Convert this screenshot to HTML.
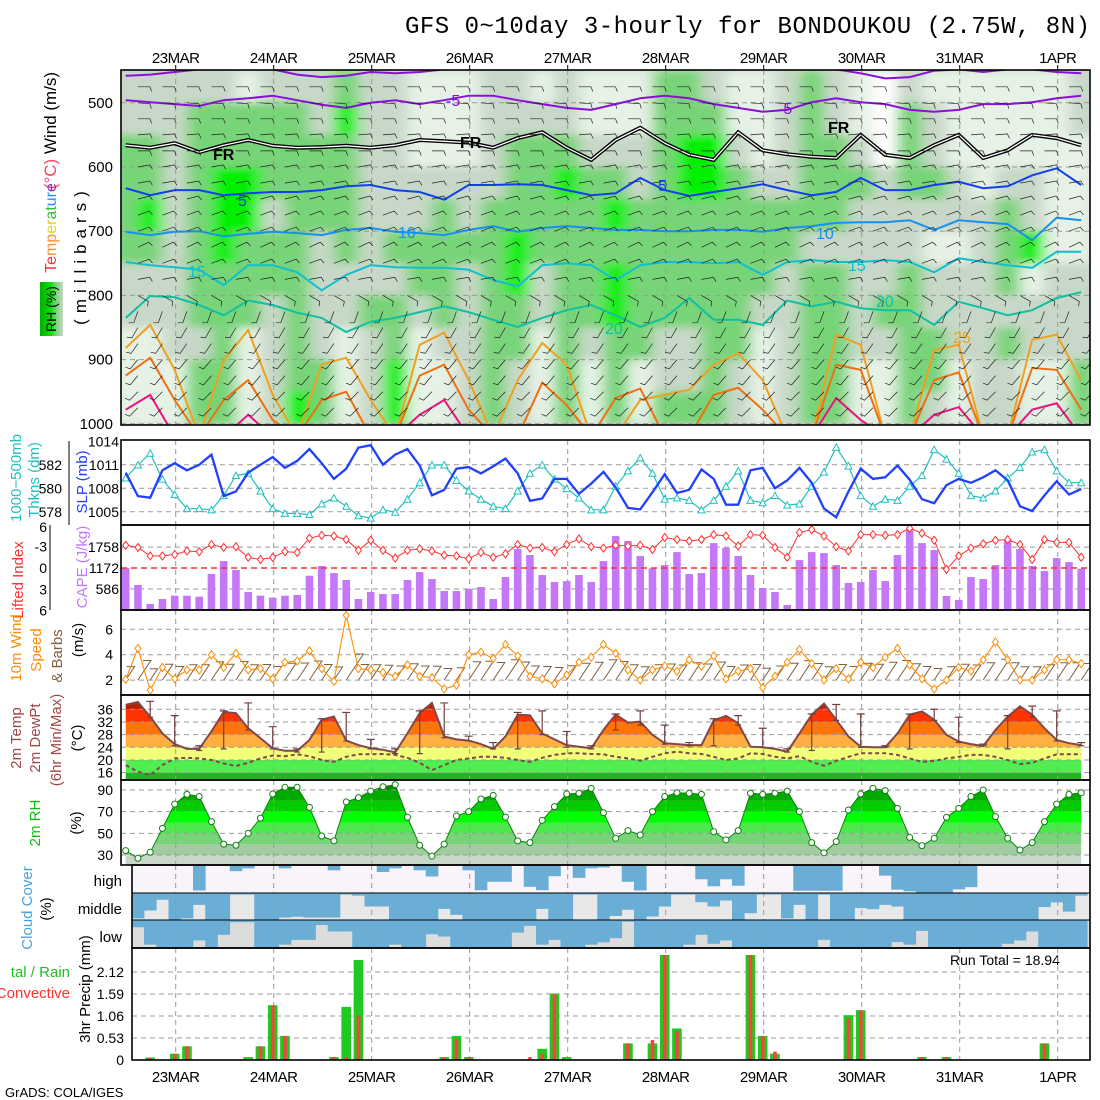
<!DOCTYPE html>
<html><head><meta charset="utf-8"><title>GFS meteogram BONDOUKOU</title>
<style>
html,body{margin:0;padding:0;background:#fff;}
svg{display:block;font-family:"Liberation Sans",sans-serif;}
.tk{font-size:14px;fill:#000;}
.dt{font-size:15px;fill:#000;letter-spacing:-0.5px;}
</style></head>
<body>
<svg id="root" width="1100" height="1100" viewBox="0 0 1100 1100" xmlns="http://www.w3.org/2000/svg">
<defs>
<clipPath id="cP1"><rect x="121" y="70" width="969" height="355"/></clipPath>
<clipPath id="cP2"><rect x="121" y="440" width="969" height="85"/></clipPath>
<clipPath id="cP3"><rect x="121" y="525" width="969" height="85"/></clipPath>
<clipPath id="cP4"><rect x="121" y="610" width="969" height="85"/></clipPath>
<clipPath id="cP5"><rect x="121" y="695" width="969" height="85"/></clipPath>
<clipPath id="cP6"><rect x="121" y="780" width="969" height="85"/></clipPath>
<clipPath id="cP7"><rect x="132" y="865" width="958" height="83"/></clipPath>
<clipPath id="cP8"><rect x="132" y="948" width="958" height="112"/></clipPath>
<filter id="blur" x="-5%" y="-5%" width="110%" height="110%"><feGaussianBlur stdDeviation="7 4"/></filter>
<linearGradient id="rhbox" x1="0" x2="1" y1="0" y2="0">
<stop offset="0" stop-color="#00b000"/><stop offset="0.45" stop-color="#00e000"/><stop offset="0.7" stop-color="#78d478"/><stop offset="1" stop-color="#c8d8c8"/></linearGradient>
</defs>
<rect x="0" y="0" width="1100" height="1100" fill="#fff"/>
<text x="405" y="33" font-family="Liberation Mono, monospace" font-size="24" textLength="685" fill="#000">GFS 0~10day 3-hourly for BONDOUKOU (2.75W, 8N)</text>

<g font-size="17">
<text transform="translate(56,113) rotate(-90)" text-anchor="middle" fill="#000">Wind (m/s)</text>
<text transform="translate(56,174) rotate(-90)" text-anchor="middle" fill="#ff4060">(°C)</text>
<text transform="translate(56,228) rotate(-90)" text-anchor="middle" font-size="16"><tspan fill="#ff3030">Te</tspan><tspan fill="#ff9030">mp</tspan><tspan fill="#e8d020">er</tspan><tspan fill="#30c030">at</tspan><tspan fill="#2090ff">ur</tspan><tspan fill="#8030d0">e</tspan></text>
<rect x="40" y="282" width="23" height="54" fill="url(#rhbox)"/>
<text transform="translate(56,309) rotate(-90)" text-anchor="middle" font-size="14" fill="#000">RH (%)</text>
<text transform="translate(86,255) rotate(-90)" text-anchor="middle" letter-spacing="6" fill="#000">(millibars)</text>
</g>
<g font-size="15">
<text transform="translate(21,478) rotate(-90)" text-anchor="middle" fill="#20c0c0">1000−500mb</text>
<text transform="translate(39,480) rotate(-90)" text-anchor="middle" fill="#20c0c0">Thkns (dm)</text>
<text transform="translate(87,482) rotate(-90)" text-anchor="middle" fill="#2040ff">SLP (mb)</text>
</g>
<g font-size="15">
<text transform="translate(23,580) rotate(-90)" text-anchor="middle" fill="#ff3030">Lifted Index</text>
<text transform="translate(87,567) rotate(-90)" text-anchor="middle" fill="#c078f8">CAPE (J/kg)</text>
</g>
<g font-size="15">
<text transform="translate(21,648) rotate(-90)" text-anchor="middle" fill="#ff8c00">10m Wind</text>
<text transform="translate(41,650) rotate(-90)" text-anchor="middle" fill="#ff8c00">Speed</text>
<text transform="translate(62,656) rotate(-90)" text-anchor="middle" fill="#806040">&amp; Barbs</text>
<text transform="translate(83,640) rotate(-90)" text-anchor="middle" fill="#000">(m/s)</text>
</g>
<g font-size="15">
<text transform="translate(21,738) rotate(-90)" text-anchor="middle" fill="#a04848">2m Temp</text>
<text transform="translate(40,738) rotate(-90)" text-anchor="middle" fill="#a04848">2m DewPt</text>
<text transform="translate(61,740) rotate(-90)" text-anchor="middle" fill="#a04848">(6hr Min/Max)</text>
<text transform="translate(82,738) rotate(-90)" text-anchor="middle" fill="#000">(°C)</text>
</g>
<g font-size="15">
<text transform="translate(40,823) rotate(-90)" text-anchor="middle" fill="#10c010">2m RH</text>
<text transform="translate(81,823) rotate(-90)" text-anchor="middle" fill="#000">(%)</text>
</g>
<g font-size="15">
<text transform="translate(32,908) rotate(-90)" text-anchor="middle" fill="#4aa0d8">Cloud Cover</text>
<text transform="translate(51,909) rotate(-90)" text-anchor="middle" fill="#000">(%)</text>
<text x="122" y="886" text-anchor="end" fill="#000">high</text>
<text x="122" y="914" text-anchor="end" fill="#000">middle</text>
<text x="122" y="942" text-anchor="end" fill="#000">low</text>
</g>
<g font-size="15">
<text x="70" y="977" text-anchor="end" fill="#20c020">tal / Rain</text>
<text x="70" y="998" text-anchor="end" fill="#ff3030">Convective</text>
<text transform="translate(90,989) rotate(-90)" text-anchor="middle" fill="#000">3hr Precip (mm)</text>
</g>
<text x="950" y="965" font-size="14" fill="#000">Run Total = 18.94</text>
<text x="5" y="1097" font-size="13" fill="#000">GrADS: COLA/IGES</text>

<g id="marks"></g>
</svg>
<script>
const dateLabels = ["23MAR","24MAR","25MAR","26MAR","27MAR","28MAR","29MAR","30MAR","31MAR","1APR"];
const pressureTicks = [500,600,700,800,900,1000];
const slpTicks = [1014,1011,1008,1005];
const thkTicks = [582,580,578];
const liTicks = [-3,0,3,6];
const capeTicks = [1758,1172,586];
const windTicks = [6,4,2];
const tempTicks = [36,32,28,24,20,16];
const rhTicks = [90,70,50,30];
const precipTicks = [2.12,1.59,1.06,0.53,0];

const slpValues = [1010,1007,1006.8,1010.3,1011.2,1010.3,1011,1012.3,1007,1007.6,1010,1011,1012,1010.6,1011.5,1013,1011.2,1009.2,1010.5,1013.2,1013.5,1011,1012.3,1013,1010.9,1007.1,1007.8,1010.5,1010.7,1009.9,1010.8,1011.8,1009.9,1006.4,1006.7,1009.2,1009.2,1007.3,1008.6,1010.1,1008.1,1005.5,1005.3,1007.5,1009.8,1007.4,1007.8,1010.4,1009.2,1005.9,1005.9,1010.3,1010.6,1008,1009,1010.6,1008.7,1005.4,1004.3,1007.6,1010.5,1009.2,1009.4,1010.9,1009.1,1006.6,1006.1,1008.4,1009.2,1008.7,1009.4,1010.3,1009,1005.7,1005.1,1007.1,1008.9,1007.2,1007.9];
const thicknessValues = [580.9,582,583,580.8,579.5,578.3,578.3,578.2,579.4,581.1,581.3,579.8,578.3,577.9,577.9,577.8,578.7,579.2,578.5,577.7,577.5,578.2,578,579.1,580.5,582,582,580.7,579.8,579.1,578.5,578.3,579.8,581.3,582,580.8,580,579.2,578.2,578.2,580.2,581.5,582.6,581.3,579.1,579.2,579,578.2,579,580.2,581.5,579,578.8,579.4,578.6,578.7,580.2,581.4,583.5,581.9,579.4,578.5,579.1,579,580.2,581.1,583.3,582.5,581.3,579.4,579.2,579.8,580.9,581.8,583.1,583.3,581.5,580.5,580.5];
const liftedIndexValues = [-3.2,-2.9,-1.7,-1.7,-1.9,-2.4,-2.3,-3.3,-2.9,-3,-1.5,-1.2,-1.5,-2.3,-2.2,-4.2,-4.6,-4.5,-4,-2.5,-3.9,-2.5,-1.4,-2.5,-2.7,-2.4,-1.8,-1.7,-1.3,-2.2,-1.5,-2,-3.3,-2.8,-2.9,-2.3,-3.3,-4.1,-3,-2.8,-3.2,-3.1,-3.2,-2.6,-4.3,-4,-3.8,-4,-4.7,-4.5,-3.1,-4.7,-4.6,-2.9,-1.5,-5,-5.4,-4.5,-3,-2.4,-4.7,-4.7,-4.6,-4.7,-5.6,-4.9,-3.9,0.2,-1.7,-2.8,-3.4,-3.9,-4,-3.3,-1.2,-4,-3.6,-3.6,-1.5];
const capeValues = [1172,698,167,307,400,400,372,1004,1367,1116,502,400,344,400,419,958,1228,1032,837,307,502,446,446,837,1060,865,530,530,586,642,307,921,1702,1535,977,781,809,977,781,1367,2065,1925,1507,1163,1256,1618,1004,1032,1869,1739,1507,977,614,502,140,1395,1618,1590,1256,753,781,1116,809,1535,2232,1869,1674,391,279,921,865,1256,1953,1702,1228,1088,1451,1339,1153];
const windSpeedValues = [2.05,4.5,1.2,3,2.1,2.8,2.8,4,3,4.1,2.8,2.9,2.1,3.4,3.5,4.3,2.9,1.9,7.1,2.9,2.8,2.6,2.3,3.2,2.3,2.2,1.3,1.6,4,4.2,3.7,4.8,3.9,2.3,2.1,1.7,2.4,3.4,3.8,4.8,4.1,2.8,2,2.8,3.1,2.7,3.6,3.1,3.9,2.1,2.7,2.9,1.4,2.3,3.4,4.4,3.3,2,2.9,2.1,3.4,3,3.8,4.5,3.2,2.1,1.3,2,3,2.7,3.6,5,3.6,2,2,2.8,3.6,3.6,3.3];
const tempValues = [37.4,38.3,33.7,28.4,25,23.5,23.5,29,35.1,34.8,30,26.9,23.7,22.9,22.9,26.3,32.7,33.7,26.1,24.7,23.7,23.2,22.4,28.4,34.8,38,27.4,26.5,26.1,25,23.5,27.4,34.3,34.1,28.4,26.5,24.7,24.2,23.7,29.5,34.3,31.8,32.1,27.9,25.3,25,24.7,24.7,32.5,33.9,31.6,24.2,24,23.5,22.6,28.4,34.3,37.8,32.7,27.4,24.2,24,24,28.4,34.3,35.3,32.7,27.9,25.8,25,24.4,29.5,33.7,36.9,34.3,30,26.3,25.3,24.7];
const dewpointValues = [18.4,16.3,15.2,18.4,20.5,20.7,20.5,20,18.9,18.1,19.1,20.5,21.4,21.2,21.8,21.2,20,19.4,21,21.8,21.8,21.9,21.6,20.7,19.1,16.8,18.4,20,20.5,21,21,20.7,20,19.4,20.7,21.6,22.1,22.1,21.9,21.8,21,20.5,19.8,21,22.1,22.6,22.1,21.9,21,20,20.5,22.1,21.9,21,20.5,21.2,19.4,18.2,19.7,21,22.1,22.1,22.1,21.6,20.5,19.4,19.7,20.5,21,21.6,21.6,21,20,18.7,19.1,20.5,21.8,21.8,21.8];
const tmax6Values = [38.5,34,24.5,35.5,38,30.5,23.5,33,35,26.5,23.5,35.5,38,27.5,25.5,35,35.5,29,24.5,34.5,35.5,31,25.5,33,34,30,23.5,34.5,37.5,34.5,24.5,34.5,36,33.5,25,34,37,35.5,25.5];
const tmin6Values = [33.5,24.5,23,23.5,29.5,23.5,22.5,22.5,26,23.5,22,22,27,26,23.5,23.5,28,24,23.5,29.5,31,25,24.5,24.5,31,24,22.5,23,32.5,24,24,23.5,32.5,25.5,24.5,23.5,33.5,26,24.5];
const rhValues = [34,27,32.5,54.6,77,86,84,60.8,40,39,50,64,86.3,92.5,92.5,74,47.5,43,79,83,89,93,95,64.8,39,29,40,66,70,81.7,85,65,43,41.4,62,74.6,86.3,87,91.5,69,45.4,52.5,48.5,70,84,87.5,87,86,51.5,44,52.5,87,86,87,89,70,41.4,32,42.3,71.5,86.3,91.5,89.4,73,46.3,38.6,45.4,64.8,73,84,90,65.4,45.4,34.6,41.4,60.8,77,86,87.5];
const cloudHigh = [0,0,0,0,0,0,91,0,0,22, 12,0,0,12,0,0,0,19,0,0, 0,25,12,0,19,41,0,0,19,90, 60,60,0,78,90,40,0,46,12,9, 0,60,91,0,0,0,4,51,76,51, 74,0,0,0,0,92,92,92,92,0, 0,0,38,88,94,100,100,100,87,79, 0,0,0,0,0,0,0,0,0];
const cloudMid = [94,94,65,25,100,94,44,100,100,6, 6,100,100,91,88,91,91,91,6,10, 50,50,100,100,100,100,59,81,100,100, 100,100,100,100,59,100,100,6,6,100, 85,62,100,87,50,6,6,34,50,28, 100,75,6,6,94,44,100,6,100,100, 56,60,44,50,100,100,100,100,100,100, 100,100,100,100,100,52,35,69,10];
const cloudLow = [26,26,88,100,100,100,73,100,53,8, 8,100,100,88,71,71,18,41,41,100, 100,100,88,100,100,51,59,100,100,100, 100,100,45,21,88,71,100,100,88,80, 65,6,100,100,100,100,88,53,85,73, 100,100,100,100,100,100,100,71,100,100, 100,100,100,79,88,39,100,100,100,100, 100,100,85,73,41,100,100,100,100];
const precipTotal = [0,0,.06,0,.15,.33,0,0,0,0, .07,.33,1.32,.58,0,0,0,.07,1.28,2.41, 0,0,0,0,0,0,.07,.58,.07,0, 0,0,0,0,.27,1.6,.07,0,0,0, 0,.4,0,.4,2.53,.76,0,0,0,0, 0,2.53,.58,.15,0,0,0,0,0,1.08, 1.2,0,0,0,0,.07,0,.07,0,0, 0,0,0,0,0,.4,0,0,0];
const precipConv = [0,0,.06,0,.15,.33,0,0,0,0, 0,.33,1.32,.58,0,0,0,.07,.07,1.07, 0,0,0,0,0,0,.07,.5,.07,0, 0,0,0,.07,.15,1.6,0,0,0,0, 0,.4,0,.48,2.53,.7,0,0,0,0, 0,2.53,.58,.2,0,0,0,0,0,1.0, 1.2,0,0,0,0,.07,0,.07,0,0, 0,0,0,0,0,.4,0,0,0];
const rhField = ["22333322111","22334322111","22222222211","23333333233","23344433333","13344333111","23332332222","23333333334","22333222233","34333322111","22222223222","22222323344","11122332111","11123333211","11122322222","22223333333","22333443322","12333322111","22343333333","11233333211","11234344333","11223333311","33333333223","33443333223","23443333333","11233333322","11123332111","22223322222","33333233333","22333233333","11232222211","00022223211","23332233333","12232122332","11122122211","11112222222","11123332322","11122412211","11111122211","22111122233"];
const isoM10 = [458,456,452,448,448,448,448,456,460,458,452,454,452,448,448,448,448,448,448,448,448,448,448,448,448,448,448,448,448,448,454,462,460,450,448,452,448,448,452,454];
const isoM5 = [496,499,502,505,496,493,489,496,503,508,500,496,502,496,489,489,496,502,508,511,502,493,489,493,502,508,514,511,499,493,499,502,511,514,511,502,502,499,493,489];
const isoFR = [566,570,563,577,566,558,567,570,569,567,570,566,558,560,562,570,555,546,570,589,558,539,563,581,589,546,574,580,584,586,550,581,586,566,550,586,574,550,555,566];
const iso5 = [633,644,636,636,644,641,639,639,636,630,628,636,639,651,628,628,627,628,636,644,641,617,636,645,639,633,627,636,644,639,617,636,636,628,623,633,630,613,602,628];
const iso10 = [701,706,701,700,708,704,701,703,706,698,695,701,703,706,698,692,701,695,692,695,698,698,700,700,698,698,701,695,692,687,686,686,683,698,683,686,689,714,679,683];
const iso15 = [748,753,756,760,784,753,753,764,792,768,753,756,757,757,760,776,786,753,750,753,776,753,748,748,750,748,768,748,745,748,748,745,748,764,742,748,753,757,732,732];
const iso20 = [835,801,803,815,831,808,815,827,835,857,841,835,826,817,826,838,849,835,823,815,831,849,835,804,838,838,846,808,817,810,820,823,823,846,810,820,831,823,804,795];
const iso25 = [882,846,916,1020,901,854,955,1020,908,897,963,1020,877,858,932,1020,932,874,908,1020,1020,963,955,947,908,890,932,1020,1020,861,877,1020,1020,885,877,1020,1020,869,861,932];
const iso30 = [925,897,963,1020,963,932,994,1020,963,950,1020,1020,925,908,978,1020,1020,936,971,1020,960,945,1020,1020,955,944,978,1020,1020,908,916,1020,1020,932,920,1020,1020,913,916,978];
const iso35 = [978,955,1020,1020,1020,986,1020,1020,1020,1020,1020,1020,986,963,1020,1020,1020,1020,1020,1020,1020,1020,1020,1020,1020,1020,1020,1020,1020,960,994,1020,1020,986,974,1020,1020,978,968,1020];
const barbLevels = [475,500,525,550,575,600,625,650,675,700,725,750,775,800,825,850,875,900,925,950,975,1000];
const barbDirs = [90,95,90,85,90,80,80,75,70,70,65,70,80,120,200,210,215,220,220,225,225,230];

const NS = "http://www.w3.org/2000/svg";
const X = i => 125.7 + 12.25 * i;
const yP = p => 70.7 + (p - 450) * 0.642;
const ySLP = v => 441.3 + (1014 - v) * 7.83;
const yThk = v => 465 + (582 - v) * 11.8;
const yLI = v => 568 + v * 7.1;
const yCape = v => 610 - v * 0.0358;
const yWs = v => 654.7 - (v - 4) * 12.7;
const yT = v => 747.3 - (v - 24) * 3.17;
const yRH = v => 790 + (90 - v) * 1.083;
const yPr = v => 1060 - v * 41.5;
const dayX = d => 175.7 + 98 * d;

const root = document.getElementById("marks");
function mk(tag, attrs, parent) {
  const e = document.createElementNS(NS, tag);
  for (const k in attrs) e.setAttribute(k, attrs[k]);
  (parent || root).appendChild(e);
  return e;
}
function group(name, clip) {
  const g = mk("g", clip ? {"clip-path": "url(#" + clip + ")"} : {});
  
  
  return g;
}
function pathOf(vals, xf, yf) {
  return vals.map((v, i) => (i ? "L" : "M") + xf(i).toFixed(1) + " " + yf(v).toFixed(1)).join(" ");
}
function hGrid(g, ys, x0) {
  ys.forEach(y => {
    const l = mk("line", {x1: x0 || 121, x2: 1090, y1: y, y2: y, stroke: "#9a9a9a", "stroke-dasharray": "5,4", "stroke-width": 1}, g);
    
    
  });
}
function vGrid(g, y1, y2) {
  dateLabels.forEach((d, k) => {
    const l = mk("line", {x1: dayX(k), x2: dayX(k), y1: y1, y2: y2, stroke: "#9a9a9a", "stroke-dasharray": "5,4", "stroke-width": 1}, g);
    
    
  });
}
function tickLabels(g, vals, yf, xr, size) {
  vals.forEach(v => {
    const t = mk("text", {x: xr, y: yf(v) + 5, "text-anchor": "end", "font-size": size || 14}, g);
    t.textContent = String(v);
    
    
  });
}

// panel 1
const g1 = group("upper-air-panel", "cP1");
const base1 = mk("rect", {x: 121, y: 70, width: 969, height: 355, fill: "#c8d8c8"}, g1);


const rhColors = ["#ffffff", "#e6f2e6", "#c8d8c8", "#78d478", "#00f000"];
const hm = mk("g", {filter: "url(#blur)"}, g1);


rhField.forEach((col, c) => {
  for (let r = 0; r < col.length; r++) {
    const p0 = 450 + 50 * r;
    const cell = mk("rect", {x: X(2 * c) - 12.25, y: yP(p0), width: 24.6, height: yP(p0 + 50) - yP(p0) + 0.5, fill: rhColors[+col[r]]}, hm);
    
    
  }
});
hGrid(g1, pressureTicks.map(yP));
vGrid(g1, 70, 425);
const isoSpecs = [
  [isoM10, "#8a10d8", 2, "isotherm-minus10"], [isoM5, "#8a10d8", 2, "isotherm-minus5"],
  [iso5, "#1040f0", 2, "isotherm-5"], [iso10, "#1890f0", 2, "isotherm-10"], [iso15, "#10c0d0", 2, "isotherm-15"],
  [iso20, "#10c0a0", 2, "isotherm-20"], [iso25, "#f0a020", 2, "isotherm-25"], [iso30, "#f07010", 2, "isotherm-30"],
  [iso35, "#f01080", 2, "isotherm-35"]];
isoSpecs.forEach(s => {
  const l = mk("path", {d: pathOf(s[0], c => X(2 * c), yP), fill: "none", stroke: s[1], "stroke-width": s[2]}, g1);
  
  
});
const frOuter = mk("path", {d: pathOf(isoFR, c => X(2 * c), yP), fill: "none", stroke: "#000", "stroke-width": 4}, g1);


const frInner = mk("path", {d: pathOf(isoFR, c => X(2 * c), yP), fill: "none", stroke: "#fff", "stroke-width": 1.3}, g1);


const bg1 = mk("g", {stroke: "#222", "stroke-width": 0.7, fill: "none"}, g1);


for (let c = 0; c < 40; c++) {
  barbLevels.forEach((p, k) => {
    const a = barbDirs[k] * Math.PI / 180, x = X(2 * c + 1), y = yP(p);
    const dx = Math.sin(a), dy = -Math.cos(a);
    const ex = x + dx * 12, ey = y + dy * 12;
    const b = a + 1.2, tx = Math.sin(b) * 5, ty = -Math.cos(b) * 5;
    const bp = mk("path", {d: `M${x.toFixed(1)} ${y.toFixed(1)}L${ex.toFixed(1)} ${ey.toFixed(1)}l${tx.toFixed(1)} ${ty.toFixed(1)}`}, bg1);
    
    
  });
}
const isoLabels = [["-5", 446, 106, "#8a10d8"], ["-5", 778, 114, "#8a10d8"], ["FR", 213, 160, "#000"], ["FR", 460, 148, "#000"], ["FR", 828, 133, "#000"],
  ["5", 238, 206, "#1040f0"], ["5", 658, 191, "#1040f0"], ["10", 398, 238, "#1890f0"], ["10", 816, 239, "#1890f0"],
  ["15", 188, 277, "#10c0d0"], ["15", 848, 271, "#10c0d0"], ["20", 605, 334, "#10c0a0"], ["20", 876, 307, "#10c0a0"], ["25", 953, 343, "#f0a020"]];
isoLabels.forEach(L => {
  const t = mk("text", {x: L[1], y: L[2], fill: L[3], "font-size": 16, "font-weight": L[0] === "FR" ? "bold" : "normal"}, g1);
  t.textContent = L[0];
  
  
});
const ax1 = group("pressure-axis");
tickLabels(ax1, pressureTicks, yP, 113, 15);

// panel 2
const g2 = group("slp-thickness-panel", "cP2");
hGrid(g2, slpTicks.slice(1).map(ySLP));
vGrid(g2, 440, 525);
const thk = mk("path", {d: pathOf(thicknessValues, X, yThk), fill: "none", stroke: "#20c0c0", "stroke-width": 1.2}, g2);


thicknessValues.forEach((v, i) => {
  const x = X(i), y = yThk(v);
  const m = mk("path", {d: `M${x - 3.5} ${y + 3}L${x} ${y - 3.5}L${x + 3.5} ${y + 3}Z`, fill: "#fff", stroke: "#20c0c0", "stroke-width": 1}, g2);
  
  
});
const slp = mk("path", {d: pathOf(slpValues, X, ySLP), fill: "none", stroke: "#2040ff", "stroke-width": 2.3}, g2);


const ax2 = group("slp-thickness-axes");
tickLabels(ax2, slpTicks, ySLP, 119, 14);
tickLabels(ax2, thkTicks, yThk, 62, 14);
const thkAxis = mk("line", {x1: 69, x2: 69, y1: 441, y2: 525, stroke: "#000"}, ax2);



// panel 3
const g3 = group("cape-li-panel", "cP3");
hGrid(g3, [yCape(1758), yCape(586)]);
vGrid(g3, 525, 610);
capeValues.forEach((v, i) => {
  const b = mk("rect", {x: X(i) - 3.8, y: yCape(v), width: 7.6, height: 610 - yCape(v), fill: "#c478f8"}, g3);
  
  
});
const li0 = mk("line", {x1: 121, x2: 1090, y1: yLI(0), y2: yLI(0), stroke: "#ff3030", "stroke-dasharray": "6,4", "stroke-width": 1.4}, g3);


const li = mk("path", {d: pathOf(liftedIndexValues, X, yLI), fill: "none", stroke: "#ff3030", "stroke-width": 1}, g3);


liftedIndexValues.forEach((v, i) => {
  const x = X(i), y = yLI(v);
  const m = mk("path", {d: `M${x} ${y - 4}L${x + 3} ${y}L${x} ${y + 4}L${x - 3} ${y}Z`, fill: "#fff", stroke: "#ff3030", "stroke-width": 1}, g3);
  
  
});
const ax3 = group("cape-li-axes");
tickLabels(ax3, capeTicks, yCape, 119, 14);
tickLabels(ax3, liTicks, yLI, 47, 14);
const liTop = mk("text", {x: 47, y: 532, "text-anchor": "end", "font-size": 14}, ax3);
liTop.textContent = "6";


const liAxis = mk("line", {x1: 50, x2: 50, y1: 525, y2: 610, stroke: "#000"}, ax3);



// panel 4
const g4 = group("wind10m-panel", "cP4");
hGrid(g4, windTicks.map(yWs));
vGrid(g4, 610, 695);
const bg4 = mk("g", {stroke: "#806040", "stroke-width": 1, fill: "none"}, g4);


windSpeedValues.forEach((v, i) => {
  const x = X(i), len = 10 + v * 3;
  const ex = x + len * 0.55, ey = 680 - len * 0.83;
  const bp = mk("path", {d: `M${x.toFixed(1)} 680L${ex.toFixed(1)} ${ey.toFixed(1)}l-8 0`}, bg4);
  
  
});
const ws = mk("path", {d: pathOf(windSpeedValues, X, yWs), fill: "none", stroke: "#ff8c00", "stroke-width": 1.1}, g4);


windSpeedValues.forEach((v, i) => {
  const x = X(i), y = yWs(v);
  const m = mk("path", {d: `M${x} ${y - 4}L${x + 3} ${y}L${x} ${y + 4}L${x - 3} ${y}Z`, fill: "#fff", stroke: "#ff8c00", "stroke-width": 1}, g4);
  
  
});
const ax4 = group("wind-axis");
tickLabels(ax4, windTicks, yWs, 113, 14);

// panel 5
const g5 = group("temperature-panel", "cP5");
const tClip = mk("clipPath", {id: "tempArea"}, g5);


const tArea = mk("path", {d: pathOf(tempValues, X, yT) + ` L${X(tempValues.length - 1)} 780 L${X(0)} 780 Z`}, tClip);


const tBands = [[-99, 16, "#22b522"], [16, 20, "#50ee50"], [20, 24, "#f2ff78"], [24, 28, "#ffb040"], [28, 32, "#ff7408"], [32, 36, "#ff3400"], [36, 99, "#c81800"]];
const tb = mk("g", {"clip-path": "url(#tempArea)"}, g5);


tBands.forEach(b => {
  const y1 = Math.max(695, yT(b[1])), y2 = Math.min(780, yT(b[0]));
  const r = mk("rect", {x: 121, y: y1, width: 969, height: y2 - y1, fill: b[2]}, tb);
  
  
});
hGrid(g5, tempTicks.map(yT));
vGrid(g5, 695, 780);
const tLine = mk("path", {d: pathOf(tempValues, X, yT), fill: "none", stroke: "#804848", "stroke-width": 2}, g5);


const dLine = mk("path", {d: pathOf(dewpointValues, X, yT), fill: "none", stroke: "#804848", "stroke-width": 2, "stroke-dasharray": "4,3"}, g5);


tmax6Values.forEach((v, k) => {
  const x = X(2 * k + 2), y1 = yT(v), y2 = yT(tmin6Values[k]);
  const w = mk("path", {d: `M${x} ${y2}L${x} ${y1}M${x - 4} ${y1}L${x + 4} ${y1}M${x - 3} ${y2}L${x + 3} ${y2}`, stroke: "#704040", "stroke-width": 1.2, fill: "none"}, g5);
  
  
});
const ax5 = group("temperature-axis");
tickLabels(ax5, tempTicks, yT, 113, 14);

// panel 6
const g6 = group("rh2m-panel", "cP6");
const rClip = mk("clipPath", {id: "rhArea"}, g6);


const rArea = mk("path", {d: pathOf(rhValues, X, yRH) + ` L${X(rhValues.length - 1)} 865 L${X(0)} 865 Z`}, rClip);


const rBands = [[0, 30, "#c8d8c8"], [30, 40, "#a0cca0"], [40, 50, "#78d478"], [50, 60, "#4ce84c"], [60, 70, "#00ff00"], [70, 80, "#00cc00"], [80, 90, "#00aa00"], [90, 120, "#008c00"]];
const rb = mk("g", {"clip-path": "url(#rhArea)"}, g6);


rBands.forEach(b => {
  const y1 = Math.max(780, yRH(b[1])), y2 = Math.min(865, yRH(b[0]));
  const r = mk("rect", {x: 121, y: y1, width: 969, height: y2 - y1, fill: b[2]}, rb);
  
  
});
hGrid(g6, rhTicks.map(yRH));
vGrid(g6, 780, 865);
const rl = mk("path", {d: pathOf(rhValues, X, yRH), fill: "none", stroke: "#108010", "stroke-width": 1}, g6);


rhValues.forEach((v, i) => {
  const c = mk("circle", {cx: X(i), cy: yRH(v), r: 3, fill: "#fff", stroke: "#108010", "stroke-width": 1}, g6);
  
  
});
const ax6 = group("rh-axis");
tickLabels(ax6, rhTicks, yRH, 113, 14);

// panel 7
const g7 = group("cloud-panel", "cP7");
const bands = [[cloudHigh, 865, 28, "#f8f4fa", "high-cloud"], [cloudMid, 893, 27, "#e8e8e8", "middle-cloud"], [cloudLow, 920, 28, "#dcdcdc", "low-cloud"]];
bands.forEach(B => {
  const bgR = mk("rect", {x: 132, y: B[1], width: 958, height: B[2], fill: B[3]}, g7);
  
  
  B[0].forEach((v, i) => {
    if (v <= 0) return;
    const r = mk("rect", {x: X(i) - 6.2, y: B[1], width: 12.6, height: B[2] * v / 100, fill: "#6aaed6"}, g7);
    
    
  });
});
vGrid(g7, 865, 948);
[893, 920].forEach(y => {
  const l = mk("line", {x1: 121, x2: 1090, y1: y, y2: y, stroke: "#000", "stroke-width": 1}, g7);
  
  
});

// panel 8
const g8 = group("precip-panel", "cP8");
hGrid(g8, precipTicks.slice(0, 4).map(yPr), 132);
vGrid(g8, 948, 1060);
precipTotal.forEach((v, i) => {
  if (v <= 0) return;
  const b = mk("rect", {x: X(i) - 4.8, y: yPr(v), width: 9.6, height: 1060 - yPr(v), fill: "#20c820"}, g8);
  
  
});
precipConv.forEach((v, i) => {
  if (v <= 0) return;
  const b = mk("rect", {x: X(i) - 1.8, y: yPr(v), width: 3.6, height: 1060 - yPr(v), fill: "#ff4040"}, g8);
  
  
});
const ax8 = group("precip-axis");
tickLabels(ax8, precipTicks, yPr, 124, 14);

// frames & dates
const fr = group("panel-frames");
[[121, 70, 969, 355], [121, 440, 969, 85], [121, 525, 969, 85], [121, 610, 969, 85], [121, 695, 969, 85], [121, 780, 969, 85], [132, 865, 958, 83], [132, 948, 958, 112]].forEach(r => {
  const f = mk("rect", {x: r[0], y: r[1], width: r[2], height: r[3], fill: "none", stroke: "#000", "stroke-width": 1.6}, fr);
  
  
});
const dl = group("date-labels");
dateLabels.forEach((d, k) => {
  const t1 = mk("text", {x: dayX(k), y: 63, "text-anchor": "middle", class: "dt"}, dl);
  t1.textContent = d;
  
  
  const t2 = mk("text", {x: dayX(k), y: 1082, "text-anchor": "middle", class: "dt"}, dl);
  t2.textContent = d;
  
  
  const tk = mk("line", {x1: dayX(k), x2: dayX(k), y1: 65, y2: 70, stroke: "#000"}, dl);
  
  
});
</script>
</body></html>
